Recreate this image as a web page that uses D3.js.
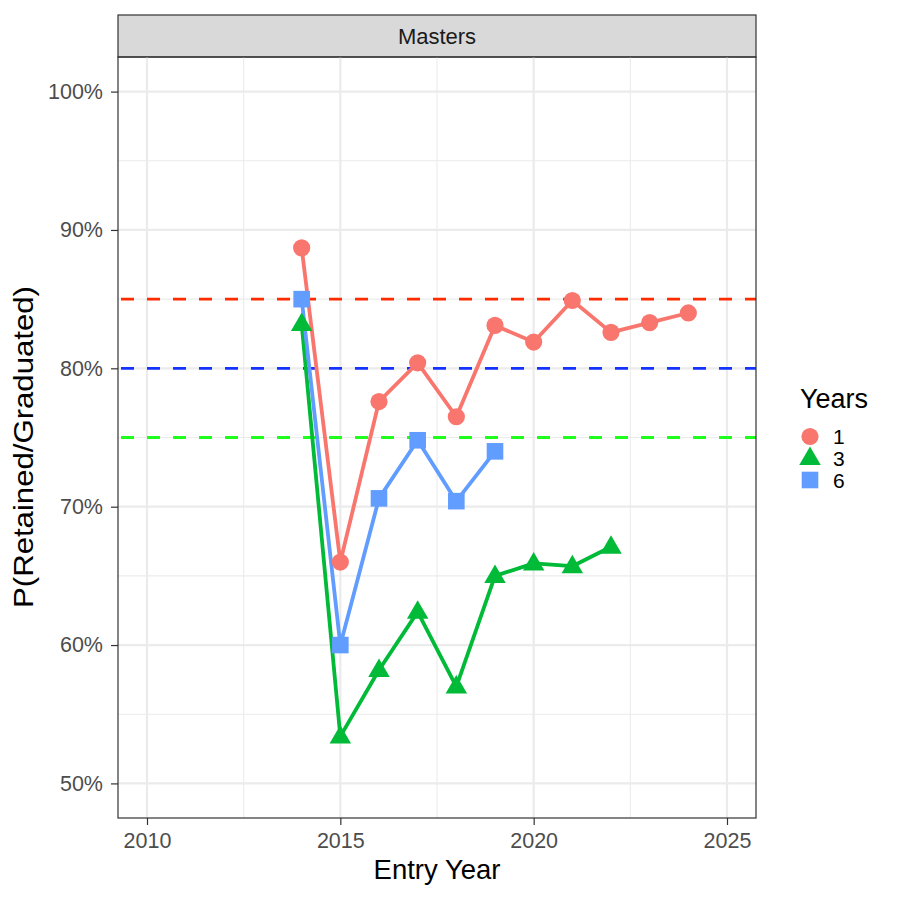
<!DOCTYPE html>
<html><head><meta charset="utf-8">
<script src="https://cdn.jsdelivr.net/npm/d3@7"></script>
<style>body{margin:0;background:#fff}text{font-family:"Liberation Sans",Arial,sans-serif}</style>
</head><body><svg id="c" width="900" height="900"></svg>
<script>
const years = [2014,2015,2016,2017,2018,2019,2020,2021,2022,2023,2024];
const groups = ["1","3","6"];
const colors = ["#F8766D","#00BA38","#619CFF"];
const shapes = ["circle","triangle","square"];
const series1 = [88.7,66.0,77.6,80.4,76.5,83.1,81.9,84.9,82.6,83.3,84.0];
const series3 = [83.2,53.4,58.2,62.4,57.0,65.0,65.9,65.7,67.1];
const series6 = [85.0,60.0,70.6,74.8,70.4,74.0];
const refValues = [85,80,75];
const refColors = ["#FF2A00","#1433FF","#1EFF1E"];
const xTicks = [2010,2015,2020,2025];
const yTicks = [50,60,70,80,90,100];
const stripLabel = "Masters";
const xTitle = "Entry Year", yTitle = "P(Retained/Graduated)", legendTitle = "Years";

const svg = d3.select("#c");
const L=118, R=756, T=57, B=818;
const x = d3.scaleLinear().domain([2009.25,2025.75]).range([L,R]);
const y = d3.scaleLinear().domain([47.5,102.5]).range([B,T]);

// strip
svg.append("rect").attr("x",L).attr("y",15).attr("width",R-L).attr("height",T-15)
  .attr("fill","#D9D9D9").attr("stroke","#333").attr("stroke-width",1.2);
svg.append("text").attr("x",(L+R)/2).attr("y",44).attr("text-anchor","middle")
  .attr("font-size",22).attr("fill","#1A1A1A").text(stripLabel);

// grid
const g = svg.append("g");
const xMinor = [2012.5,2017.5,2022.5], yMinor=[55,65,75,85,95];
xMinor.forEach(v=>g.append("line").attr("x1",x(v)).attr("x2",x(v)).attr("y1",T).attr("y2",B).attr("stroke","#EBEBEB").attr("stroke-width",1.1));
yMinor.forEach(v=>g.append("line").attr("y1",y(v)).attr("y2",y(v)).attr("x1",L).attr("x2",R).attr("stroke","#EBEBEB").attr("stroke-width",1.1));
xTicks.forEach(v=>g.append("line").attr("x1",x(v)).attr("x2",x(v)).attr("y1",T).attr("y2",B).attr("stroke","#EBEBEB").attr("stroke-width",2.2));
yTicks.forEach(v=>g.append("line").attr("y1",y(v)).attr("y2",y(v)).attr("x1",L).attr("x2",R).attr("stroke","#EBEBEB").attr("stroke-width",2.2));

// reference lines
refValues.forEach((v,i)=>svg.append("line").attr("x1",L).attr("x2",R).attr("y1",y(v)).attr("y2",y(v))
  .attr("stroke",refColors[i]).attr("stroke-width",2.8).attr("stroke-dasharray","13,13").attr("stroke-dashoffset",-3));

const data = [series1,series3,series6].map((s,i)=>({g:groups[i],c:colors[i],sh:shapes[i],pts:s.map((v,j)=>[years[j],v])}));
const line = d3.line().x(d=>x(d[0])).y(d=>y(d[1]));
data.forEach(d=>svg.append("path").attr("d",line(d.pts)).attr("fill","none").attr("stroke",d.c).attr("stroke-width",3.8).attr("stroke-linejoin","round"));

function shape(sel,sh,cx,cy,c){
  if(sh==="circle") sel.append("circle").attr("cx",cx).attr("cy",cy).attr("r",8.6).attr("fill",c);
  else if(sh==="square") sel.append("rect").attr("x",cx-8.3).attr("y",cy-8.3).attr("width",16.6).attr("height",16.6).attr("fill",c);
  else { const h=18.5, w=21.5; sel.append("path").attr("d",`M${cx},${cy-h*0.62}L${cx+w/2},${cy+h*0.38}L${cx-w/2},${cy+h*0.38}Z`).attr("fill",c);}
}
data.forEach(d=>d.pts.forEach(p=>shape(svg,d.sh,x(p[0]),y(p[1]),d.c)));

// panel border
svg.append("rect").attr("x",L).attr("y",T).attr("width",R-L).attr("height",B-T).attr("fill","none").attr("stroke","#333").attr("stroke-width",1.2);

// axes
const xa = svg.append("g").attr("transform",`translate(0,${B})`).call(d3.axisBottom(x).tickValues(xTicks).tickFormat(d3.format("d")).tickSize(7).tickPadding(7.5));
const ya = svg.append("g").attr("transform",`translate(${L},0)`).call(d3.axisLeft(y).tickValues(yTicks).tickFormat(d=>d+"%").tickSize(7).tickPadding(8));
[xa,ya].forEach(a=>{a.select(".domain").remove();a.selectAll("line").attr("stroke","#333").attr("stroke-width",1.2);
  a.selectAll("text").attr("fill","#4D4D4D").attr("font-size",21.5).attr("font-family","Liberation Sans, Arial, sans-serif");});

svg.append("text").attr("x",(L+R)/2).attr("y",879).attr("text-anchor","middle").attr("font-size",27.5).attr("fill","#000").text(xTitle);
svg.append("text").attr("transform",`translate(33,447) rotate(-90)`).attr("text-anchor","middle").attr("font-size",28)
  .attr("textLength",322).attr("lengthAdjust","spacingAndGlyphs").attr("fill","#000").text(yTitle);

// legend
svg.append("text").attr("x",800).attr("y",408).attr("font-size",27).attr("fill","#000").text(legendTitle);
const ly=[436.5,458,480];
data.forEach((d,i)=>{shape(svg,d.sh,810,ly[i],d.c);
  svg.append("text").attr("x",833).attr("y",ly[i]+7.5).attr("font-size",21).attr("fill","#000").text(d.g);});
</script></body></html>
